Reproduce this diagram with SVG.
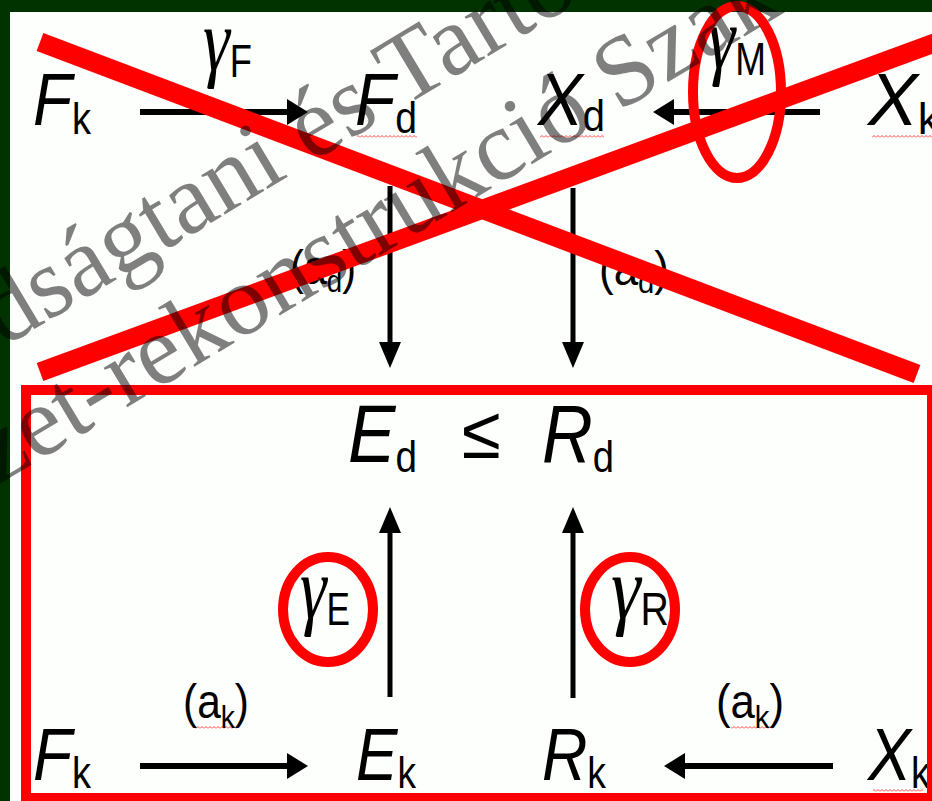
<svg xmlns="http://www.w3.org/2000/svg" width="932" height="801" viewBox="0 0 932 801">
  <defs>
    <style>
      .m { font-family: "Liberation Sans", Arial, sans-serif; font-style: italic; fill: #000; }
      .s { font-family: "Liberation Sans", Arial, sans-serif; font-style: normal; fill: #000; }
      .g { font-family: "Liberation Serif", "Times New Roman", serif; font-style: italic; fill: #000; }
      .wm { font-family: "Liberation Serif", "Times New Roman", serif; font-size: 100px; fill: #000; fill-opacity: 0.5; }
      .conn line { stroke: #000; fill: none; }
      .h { stroke-width: 6; marker-end: url(#ah); }
      .v { stroke-width: 5; marker-end: url(#av); }
      .red { fill: none; stroke: #ff0000; }
    </style>
    <marker id="ah" viewBox="0 0 21 26" markerWidth="21" markerHeight="26" refX="9" refY="13" orient="auto" markerUnits="userSpaceOnUse">
      <path d="M0,0 L21,13 L0,26 z" fill="#000"/>
    </marker>
    <marker id="av" viewBox="0 0 26 22" markerWidth="26" markerHeight="22" refX="12" refY="11" orient="auto" markerUnits="userSpaceOnUse">
      <path d="M0,0 L26,11 L0,22 z" fill="#000"/>
    </marker>
    <pattern id="wave" width="4" height="3" patternUnits="userSpaceOnUse">
      <path d="M0,2.5 L2,0.5 L4,2.5" fill="none" stroke="#ff3030" stroke-width="0.9"/>
    </pattern>
  </defs>

  <!-- background -->
  <rect x="0" y="0" width="932" height="801" fill="#003300"/>
  <rect x="10" y="12" width="922" height="789" fill="#fdfffd"/>

  <!-- spell-check squiggles -->
  <g id="squiggles">
    <rect x="357" y="135" width="60" height="3" fill="url(#wave)"/>
    <rect x="540" y="135" width="64" height="3" fill="url(#wave)"/>
    <rect x="872" y="135" width="60" height="3" fill="url(#wave)"/>
    <rect x="193" y="726" width="45" height="3" fill="url(#wave)"/>
    <rect x="731" y="726" width="42" height="3" fill="url(#wave)"/>
    <rect x="873" y="789" width="50" height="3" fill="url(#wave)"/>
  </g>

  <!-- nodes -->
  <g id="node-Fk-top">
    <text x="33" y="125" textLength="58" lengthAdjust="spacingAndGlyphs"><tspan class="m" font-size="74">F</tspan><tspan class="s" font-size="44" dy="9">k</tspan></text>
  </g>
  <g id="node-Fd">
    <text x="355" y="125" textLength="62" lengthAdjust="spacingAndGlyphs"><tspan class="m" font-size="74">F</tspan><tspan class="s" font-size="44" dy="8">d</tspan></text>
  </g>
  <g id="node-Xd">
    <text x="538" y="125" textLength="67" lengthAdjust="spacingAndGlyphs"><tspan class="m" font-size="74">X</tspan><tspan class="s" font-size="44" dy="6">d</tspan></text>
  </g>
  <g id="node-Xk-top">
    <text x="868" y="125" textLength="72" lengthAdjust="spacingAndGlyphs"><tspan class="m" font-size="74">X</tspan><tspan class="s" font-size="44" dy="9">k</tspan></text>
  </g>
  <g id="node-Ed-le-Rd">
    <text x="348" y="462" textLength="69" lengthAdjust="spacingAndGlyphs"><tspan class="m" font-size="81">E</tspan><tspan class="s" font-size="44" dy="10">d</tspan></text>
    <text class="s" x="462" y="458" font-size="74" textLength="39" lengthAdjust="spacingAndGlyphs">≤</text>
    <text x="542" y="462" textLength="72" lengthAdjust="spacingAndGlyphs"><tspan class="m" font-size="81">R</tspan><tspan class="s" font-size="44" dy="10">d</tspan></text>
  </g>
  <g id="node-Fk-bottom">
    <text x="33" y="780" textLength="58" lengthAdjust="spacingAndGlyphs"><tspan class="m" font-size="74">F</tspan><tspan class="s" font-size="44" dy="8">k</tspan></text>
  </g>
  <g id="node-Ek">
    <text x="356" y="780" textLength="60" lengthAdjust="spacingAndGlyphs"><tspan class="m" font-size="74">E</tspan><tspan class="s" font-size="44" dy="8">k</tspan></text>
  </g>
  <g id="node-Rk">
    <text x="542" y="780" textLength="64" lengthAdjust="spacingAndGlyphs"><tspan class="m" font-size="74">R</tspan><tspan class="s" font-size="44" dy="8">k</tspan></text>
  </g>
  <g id="node-Xk-bottom">
    <text x="868" y="780" textLength="62" lengthAdjust="spacingAndGlyphs"><tspan class="m" font-size="74">X</tspan><tspan class="s" font-size="44" dy="8">k</tspan></text>
  </g>

  <!-- connectors -->
  <g id="connectors" class="conn">
    <line class="h" x1="140" y1="112" x2="296" y2="112"/>
    <line class="h" x1="820" y1="112" x2="665" y2="112"/>
    <line class="v" x1="390" y1="186" x2="390" y2="354"/>
    <line class="v" x1="573" y1="188" x2="573" y2="354"/>
    <line class="v" x1="390" y1="697" x2="390" y2="521"/>
    <line class="v" x1="573" y1="698" x2="573" y2="521"/>
    <line class="h" x1="140" y1="766" x2="296" y2="766"/>
    <line class="h" x1="833" y1="766" x2="676" y2="766"/>
  </g>

  <!-- connector labels -->
  <g id="labels">
    <text x="203" y="70" textLength="49" lengthAdjust="spacingAndGlyphs"><tspan class="g" font-size="88">γ</tspan><tspan class="s" font-size="47" dy="7">F</tspan></text>
    <text x="708" y="68" textLength="58" lengthAdjust="spacingAndGlyphs"><tspan class="g" font-size="88">γ</tspan><tspan class="s" font-size="47" dy="7">M</tspan></text>
    <text x="290" y="284" textLength="66" lengthAdjust="spacingAndGlyphs"><tspan class="s" font-size="48">(a</tspan><tspan class="s" font-size="32" dy="8">d</tspan><tspan class="s" font-size="48" dy="-8">)</tspan></text>
    <text x="599" y="285" textLength="70" lengthAdjust="spacingAndGlyphs"><tspan class="s" font-size="48">(a</tspan><tspan class="s" font-size="32" dy="8">d</tspan><tspan class="s" font-size="48" dy="-8">)</tspan></text>
    <text x="300" y="618" textLength="50" lengthAdjust="spacingAndGlyphs"><tspan class="g" font-size="88">γ</tspan><tspan class="s" font-size="46" dy="7">E</tspan></text>
    <text x="611" y="618" textLength="58" lengthAdjust="spacingAndGlyphs"><tspan class="g" font-size="88">γ</tspan><tspan class="s" font-size="46" dy="7">R</tspan></text>
    <text x="183" y="718" textLength="66" lengthAdjust="spacingAndGlyphs"><tspan class="s" font-size="48">(a</tspan><tspan class="s" font-size="32" dy="10">k</tspan><tspan class="s" font-size="48" dy="-10">)</tspan></text>
    <text x="716" y="718" textLength="68" lengthAdjust="spacingAndGlyphs"><tspan class="s" font-size="48">(a</tspan><tspan class="s" font-size="32" dy="10">k</tspan><tspan class="s" font-size="48" dy="-10">)</tspan></text>
  </g>

  <!-- red annotations -->
  <g id="annotations">
    <rect class="red" x="26" y="390" width="906" height="408" stroke-width="10"/>
    <ellipse class="red" cx="737" cy="92" rx="44" ry="86" stroke-width="10"/>
    <ellipse class="red" cx="328" cy="609.5" rx="45" ry="52.5" stroke-width="10"/>
    <ellipse class="red" cx="630" cy="609.5" rx="45" ry="52.5" stroke-width="10"/>
    <line class="red" x1="40" y1="42" x2="917" y2="374" stroke-width="19"/>
    <line class="red" x1="40" y1="372" x2="945" y2="39" stroke-width="19"/>
  </g>

  <!-- watermark -->
  <g id="watermark">
    <text class="wm" transform="translate(3.7,347.4) rotate(-31)">dságtani és Tartó</text>
    <text class="wm" transform="translate(-3,485.5) rotate(-31)">zet-rekonstrukció Szak</text>
  </g>
</svg>
